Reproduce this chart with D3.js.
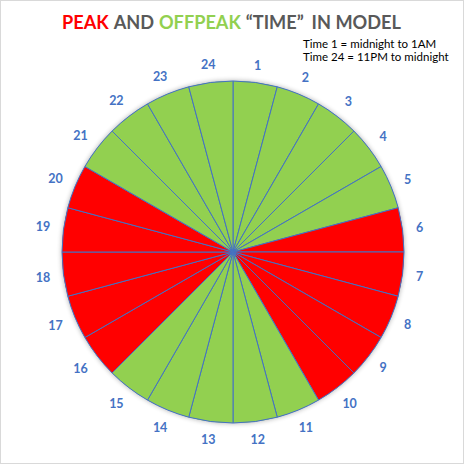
<!DOCTYPE html>
<html><head><meta charset="utf-8">
<script src="https://cdn.jsdelivr.net/npm/d3@7"></script>
<style>body{margin:0;background:#fff}svg{display:block}</style>
</head><body>
<svg id="c" width="464" height="464"></svg>
<script>
const hours = d3.range(1,25).map(String);
const values = hours.map(()=>1);
const peak = ["6","7","8","9","10","16","17","18","19","20"];
const titleParts = [["PEAK","#FF0000"],["AND","#595959"],["OFFPEAK","#92D050"],["“TIME”","#595959"],["IN MODEL","#595959"]];
const notes = ["Time 1 = midnight to 1AM","Time 24 = 11PM to midnight"];

const svg = d3.select("#c");
svg.append("rect").attr("x",0.5).attr("y",0.5).attr("width",463).attr("height",463).attr("fill","#fff").attr("stroke","#d9d9d9");

const defs = svg.append("defs");
const f = defs.append("filter").attr("id","sh").attr("x","-10%").attr("y","-10%").attr("width","120%").attr("height","120%");
f.append("feGaussianBlur").attr("in","SourceGraphic").attr("stdDeviation",2.5);

const cx=233, cy=252, r=171;
const g = svg.append("g").attr("transform",`translate(${cx},${cy})`);
g.append("circle").attr("r",r+0.5).attr("fill","#000").attr("opacity",0.3).attr("filter","url(#sh)");
g.append("circle").attr("r",r).attr("fill","#4472C4");
const pie = d3.pie().sort(null).value(d=>d.v);
const data = pie(hours.map((h,i)=>({h, v:values[i]})));
const arc = d3.arc().innerRadius(0).outerRadius(r);
g.append("g").selectAll("path").data(data).join("path")
  .attr("d",arc)
  .attr("fill",d=>peak.includes(d.data.h)?"#FF0000":"#92D050")
  .attr("stroke","#4472C4").attr("stroke-width",1).attr("stroke-linejoin","round");

const fs=12.5;
const lab = g.selectAll("text.l").data(data).join("text").attr("class","l")
  .attr("font-family","Lato, 'Open Sans', sans-serif").attr("font-weight","bold").attr("font-size",fs)
  .attr("fill","#4472C4").attr("text-anchor","middle").attr("dominant-baseline","central")
  .text(d=>d.data.h);
lab.each(function(d){
  const w=this.getComputedTextLength();
  const a=(d.startAngle+d.endAngle)/2;
  const s=Math.sin(a), c=Math.cos(a);
  const dist=r+13+(w/2)*Math.abs(s)+4*Math.abs(c);
  d3.select(this).attr("x",dist*s).attr("y",-dist*c);
});

const tg = svg.append("g");
let tfs=20.5;
const tw = tg.selectAll("text").data(titleParts).join("text")
  .attr("y",29).attr("font-family","Lato, 'Open Sans', sans-serif").attr("font-weight","bold")
  .attr("font-size",tfs).attr("fill",d=>d[1]).text(d=>d[0]);
const gaps=[1,1,1,1.6];
function layout(){
  const sp = tfs*0.27;
  let x=62; const ws=[];
  tw.each(function(){ws.push(this.getComputedTextLength());});
  tw.each(function(d,i){ d3.select(this).attr("x",x); x+=ws[i]+(i<gaps.length?sp*gaps[i]:0); });
  return x-62;
}
let total=layout();
tfs = tfs*339/total; tw.attr("font-size",tfs); layout();

svg.selectAll("text.n").data(notes).join("text").attr("class","n")
  .attr("x",303).attr("y",(d,i)=>48+i*13)
  .attr("font-family","Lato, 'Open Sans', sans-serif").attr("font-size",11.5).attr("fill","#000")
  .text(d=>d);
</script>
</body></html>
